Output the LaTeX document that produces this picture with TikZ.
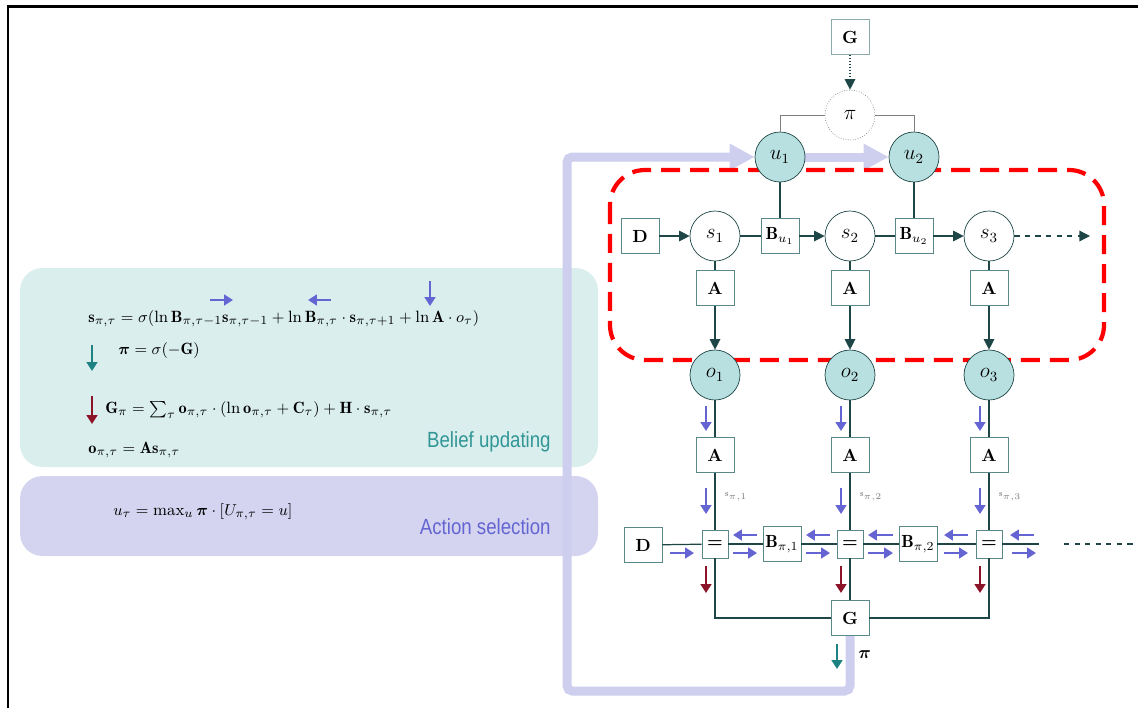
\documentclass[tikz,border=0pt]{standalone}
\usepackage{amsmath, amssymb, bm}
\usepackage{fontspec}
\newfontfamily\labelsans[FakeStretch=0.85]{Liberation Sans}
\usepackage{tikz}
\usetikzlibrary{arrows.meta, backgrounds, positioning}

\definecolor{edgeteal}{RGB}{31,70,70}
\definecolor{boxline}{RGB}{90,135,135}
\definecolor{obsfill}{RGB}{185,224,224}
\definecolor{beliefpanel}{RGB}{218,238,238}
\definecolor{actionpanel}{RGB}{212,212,240}
\definecolor{lavline}{RGB}{206,206,238}
\definecolor{msgblue}{RGB}{100,100,210}
\definecolor{msgred}{RGB}{140,20,40}
\definecolor{msgteal}{RGB}{30,130,130}
\definecolor{belieftext}{RGB}{50,150,150}
\definecolor{actiontext}{RGB}{100,100,210}

\begin{document}
\begin{tikzpicture}[x=0.02cm, y=-0.02cm,
    factor/.style={draw=boxline, fill=white, minimum width=0.76cm, minimum height=0.7cm, inner sep=1pt, font=\bfseries},
    equality/.style={factor, minimum width=0.52cm, minimum height=0.56cm},
    state/.style={draw=edgeteal, circle, fill=white, minimum size=1cm, inner sep=0pt, font=\large},
    outcome/.style={state, fill=obsfill},
    policy/.style={state, draw=gray, densely dotted},
    link/.style={edgeteal, line width=0.7pt},
    flow/.style={link, -{Triangle[width=6pt,length=6pt]}},
    msg/.style={msgblue, line width=1.5pt, -{Triangle[width=6pt,length=5pt]}},
    feedback arrow/.style={lavline, line width=0.18cm, rounded corners=3pt, -{Triangle[width=0.5cm,length=0.5cm]}},
    formula/.style={anchor=west, inner sep=0pt, font=\fontsize{9.3}{11}\selectfont}]
    \useasboundingbox (0,0) rectangle (1138,708);
    \draw[line width=0.06cm] (8,708) -- (8,6) -- (1138,6);

    % policy selection
    \node[factor, draw=boxline!70] (Gtop) at (850,37) {G};
    \node[policy] (pi) at (850,115) {$\pi$};
    \node[outcome] (u1) at (780,157) {$u_1$};
    \node[outcome] (u2) at (914,157) {$u_2$};

    % generative model
    \node[factor] (Dtop) at (640,236) {D};
    \node[state] (s1) at (715,236) {$s_1$};
    \node[factor] (Bu1) at (780,236) {$\mathbf{B}_{u_1}$};
    \node[state] (s2) at (850,236) {$s_2$};
    \node[factor] (Bu2) at (914,236) {$\mathbf{B}_{u_2}$};
    \node[state] (s3) at (989,236) {$s_3$};
    \coordinate (s4) at (1090,236);
    \node[factor] (A1) at (715,288) {A};
    \node[factor] (A2) at (850,288) {A};
    \node[factor] (A3) at (989,288) {A};
    \node[outcome] (o1) at (715,375) {$o_1$};
    \node[outcome] (o2) at (850,375) {$o_2$};
    \node[outcome] (o3) at (989,375) {$o_3$};

    % message passing
    \node[factor] (Alow1) at (715,455) {A};
    \node[factor] (Alow2) at (850,455) {A};
    \node[factor] (Alow3) at (989,455) {A};
    \node[factor] (Dlow) at (643,545) {D};
    \node[equality] (eq1) at (715,544) {=};
    \node[factor] (Bpi1) at (782,544) {$\mathbf{B}_{\pi,1}$};
    \node[equality] (eq2) at (850,544) {=};
    \node[factor] (Bpi2) at (918,544) {$\mathbf{B}_{\pi,2}$};
    \node[equality] (eq3) at (989,544) {=};
    \coordinate (eqend) at (1039,544);
    \coordinate (dashstart) at (1064,544);
    \coordinate (dashend) at (1138,544);
    \node[factor] (Glow) at (850,618) {G};
    \coordinate (fbcorner) at (567,691);

    \begin{scope}[on background layer]
        \fill[beliefpanel, rounded corners=0.45cm] (20,268) rectangle (598,467);
        \fill[actionpanel, rounded corners=0.45cm] (20,476) rectangle (598,556);
        \draw[feedback arrow] (Glow.south) |- (fbcorner) |- (u1.west);
        \draw[feedback arrow] (u1.east) -- (u2.west);
        \draw[red, line width=2.4pt, dash pattern=on 0.38cm off 0.2cm, rounded corners=0.7cm] (610,170) rectangle (1104,360);
    \end{scope}

    \draw[flow, densely dotted] (Gtop) -- (pi);
    \draw[gray, line width=0.5pt] (pi.west) -| (u1.north);
    \draw[gray, line width=0.5pt] (pi.east) -| (u2.north);
    \draw[link] (u1) -- (Bu1);
    \draw[link] (u2) -- (Bu2);
    \draw[flow] (Dtop) -- (s1);
    \draw[link] (s1) -- (Bu1);
    \draw[flow] (Bu1) -- (s2);
    \draw[link] (s2) -- (Bu2);
    \draw[flow] (Bu2) -- (s3);
    \draw[flow, dashed] (s3) -- (s4);
    \draw[link] (s1) -- (A1);
    \draw[link] (s2) -- (A2);
    \draw[link] (s3) -- (A3);
    \draw[flow] (A1) -- (o1);
    \draw[flow] (A2) -- (o2);
    \draw[flow] (A3) -- (o3);
    \draw[link] (o1) -- (Alow1);
    \draw[link] (o2) -- (Alow2);
    \draw[link] (o3) -- (Alow3);
    \draw[link] (Alow1) -- (eq1);
    \draw[link] (Alow2) -- (eq2);
    \draw[link] (Alow3) -- (eq3);
    \draw[link] (Dlow) -- (eq1);
    \draw[link] (eq1) -- (Bpi1);
    \draw[link] (Bpi1) -- (eq2);
    \draw[link] (eq2) -- (Bpi2);
    \draw[link] (Bpi2) -- (eq3);
    \draw[link] (eq3) -- (eqend);
    \draw[link, dashed] (dashstart) -- (dashend);
    \draw[link] (eq1) |- (Glow);
    \draw[link] (eq3) |- (Glow);
    \draw[link] (eq2) -- (Glow);

    % messages
    \draw[msg] (706,406) -- (706,431);
    \draw[msg] (841,406) -- (841,431);
    \draw[msg] (980,406) -- (980,431);
    \draw[msg] (706,488) -- (706,514);
    \draw[msg] (841,488) -- (841,514);
    \draw[msg] (980,488) -- (980,514);
    \node[anchor=west, font=\tiny, text=gray] (spi1) at (719,497) {$\mathbf{s}_{\pi,1}$};
    \node[anchor=west, font=\tiny, text=gray] (spi2) at (854,497) {$\mathbf{s}_{\pi,2}$};
    \node[anchor=west, font=\tiny, text=gray] (spi3) at (993,497) {$\mathbf{s}_{\pi,3}$};
    \draw[msg] (670,553) -- (694,553);
    \draw[msg] (733,553) -- (757,553);
    \draw[msg] (806,553) -- (830,553);
    \draw[msg] (868,553) -- (893,553);
    \draw[msg] (944,553) -- (968,553);
    \draw[msg] (1012,553) -- (1036,553);
    \draw[msg] (757,535) -- (733,535);
    \draw[msg] (830,535) -- (806,535);
    \draw[msg] (893,535) -- (868,535);
    \draw[msg] (968,535) -- (944,535);
    \draw[msg] (1034,535) -- (1010,535);
    \draw[msg, msgred] (706,566) -- (706,593);
    \draw[msg, msgred] (841,566) -- (841,593);
    \draw[msg, msgred] (980,566) -- (980,593);
    \draw[msg, msgteal] (837,644) -- (837,669);
    \node[anchor=west, inner sep=0pt] (pilabel) at (858,655) {$\boldsymbol{\pi}$};

    % update equations
    \draw[msg] (210,300) -- (233,300);
    \draw[msg] (331,300) -- (308,300);
    \draw[msg] (430,281) -- (430,306);
    \node[formula] (stateupd) at (88,319) {$\mathbf{s}_{\pi,\tau}=\sigma(\ln\mathbf{B}_{\pi,\tau-1}\mathbf{s}_{\pi,\tau-1}+\ln\mathbf{B}_{\pi,\tau}\cdot\mathbf{s}_{\pi,\tau+1}+\ln\mathbf{A}\cdot o_\tau)$};
    \draw[msg, msgteal] (92,345) -- (92,371);
    \node[formula] (policyupd) at (118,351) {$\boldsymbol{\pi}=\sigma(-\mathbf{G})$};
    \draw[msg, msgred] (92,396) -- (92,424);
    \node[formula] (efeupd) at (105,410) {$\mathbf{G}_\pi=\sum_\tau\mathbf{o}_{\pi,\tau}\cdot(\ln\mathbf{o}_{\pi,\tau}+\mathbf{C}_\tau)+\mathbf{H}\cdot\mathbf{s}_{\pi,\tau}$};
    \node[formula] (outcomeupd) at (88,450) {$\mathbf{o}_{\pi,\tau}=\mathbf{A}\mathbf{s}_{\pi,\tau}$};
    \node[anchor=east, inner sep=0pt, text=belieftext, font=\fontsize{12.5}{14}\labelsans] (belieflabel) at (551,442) {Belief updating};
    \node[formula] (actionupd) at (113,512) {$u_\tau=\max_u\boldsymbol{\pi}\cdot[U_{\pi,\tau}=u]$};
    \node[anchor=east, inner sep=0pt, text=actiontext, font=\fontsize{12.5}{14}\labelsans] (actionlabel) at (551,527) {Action selection};
\end{tikzpicture}
\end{document}
